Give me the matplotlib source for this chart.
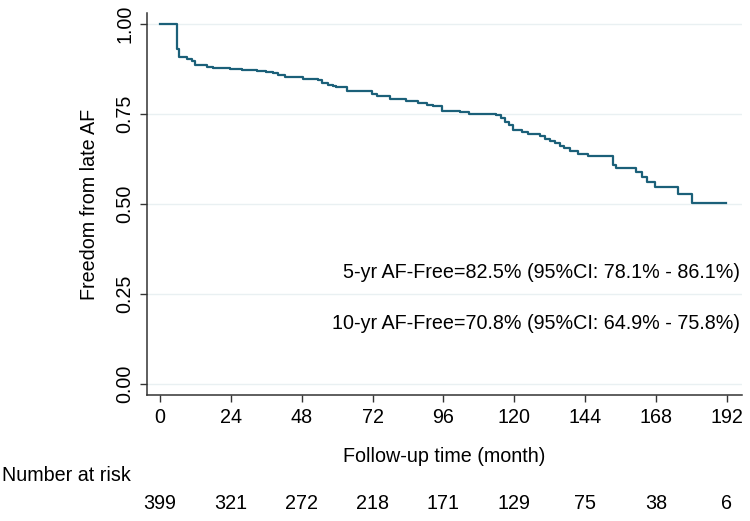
import matplotlib
matplotlib.use("Agg")
import matplotlib.pyplot as plt
import matplotlib.transforms as mtransforms

plt.rcParams['font.family'] = ['Liberation Sans', 'DejaVu Sans']

# Kaplan-Meier steps: event time (month) and survival after it
times = [0, 5.9, 6.5, 9, 11, 12, 15.8, 18, 23.7, 27.7, 32.7, 35.8, 38.3, 40, 42.3,
         48.4, 53.5, 55, 57, 58.6, 59.8, 63.2, 71.7, 73.4, 77.9, 83.5, 87.5, 90.3,
         92.6, 95.7, 101.6, 104.7, 114, 115.5, 117, 118.3, 119.6, 122.5, 124.7,
         128.6, 130.5, 132, 133.8, 135.5, 137, 138.8, 141.7, 145, 153.5, 154.5,
         161.4, 163.2, 165, 167.6, 175.5, 180.4, 191.7]
surv = [1.0, 0.930, 0.909, 0.904, 0.897, 0.885, 0.882, 0.879, 0.874, 0.871, 0.869,
        0.867, 0.863, 0.858, 0.854, 0.847, 0.844, 0.837, 0.832, 0.828, 0.824, 0.815,
        0.807, 0.800, 0.791, 0.787, 0.782, 0.776, 0.771, 0.759, 0.755, 0.750, 0.747,
        0.738, 0.729, 0.719, 0.707, 0.701, 0.695, 0.689, 0.682, 0.676, 0.669, 0.662,
        0.655, 0.647, 0.640, 0.633, 0.608, 0.601, 0.590, 0.574, 0.562, 0.548, 0.527,
        0.502, 0.502]

xticks = [0, 24, 48, 72, 96, 120, 144, 168, 192]
yticks = [0.0, 0.25, 0.5, 0.75, 1.0]
at_risk = [399, 321, 272, 218, 171, 129, 75, 38, 6]
notes = ["5-yr AF-Free=82.5% (95%CI: 78.1% - 86.1%)",
         "10-yr AF-Free=70.8% (95%CI: 64.9% - 75.8%)"]

line_color = '#1b6079'
fs = 14.2

fig = plt.figure(figsize=(7.5, 5.21), dpi=100)
ax = fig.add_axes([0.196, 0.2418, 0.793, 0.7332])

for y in yticks:
    ax.axhline(y, color='#e9f0f2', lw=1.0, zorder=0)

ax.plot(times, surv, drawstyle='steps-post', color=line_color, lw=1.6, zorder=3)

ax.set_xlim(-4.4, 197.1)
ax.set_ylim(-0.0306, 1.0306)
ax.set_xticks(xticks)
ax.set_xticklabels([str(t) for t in xticks], fontsize=fs)
ax.set_yticks(yticks)
ax.set_yticklabels(['%.2f' % y for y in yticks], fontsize=fs, rotation=90, va='center')
ax.tick_params(axis='both', direction='out', length=5, width=1.0, color='#333333')
ax.tick_params(axis='x', pad=4)
ax.tick_params(axis='y', pad=4)

for side in ['top', 'right']:
    ax.spines[side].set_visible(False)
for side in ['left', 'bottom']:
    ax.spines[side].set_color('#333333')
    ax.spines[side].set_linewidth(1.1)

ax.set_ylabel('Freedom from late AF', fontsize=fs, labelpad=12)
ax.set_xlabel('Follow-up time (month)', fontsize=fs, labelpad=15)

# survival summary notes
ax.text(0.997, 0.322, notes[0], transform=ax.transAxes, ha='right', va='center', fontsize=fs)
ax.text(0.997, 0.186, notes[1], transform=ax.transAxes, ha='right', va='center', fontsize=fs)

# number at risk table below the axis
fig.text(0.003, 0.088, 'Number at risk', ha='left', va='center', fontsize=fs)
trans = mtransforms.blended_transform_factory(ax.transData, fig.transFigure)
for t, n in zip(xticks, at_risk):
    ax.text(t, 0.034, str(n), transform=trans, ha='center', va='center', fontsize=fs)

fig.savefig('out.png', dpi=100)
